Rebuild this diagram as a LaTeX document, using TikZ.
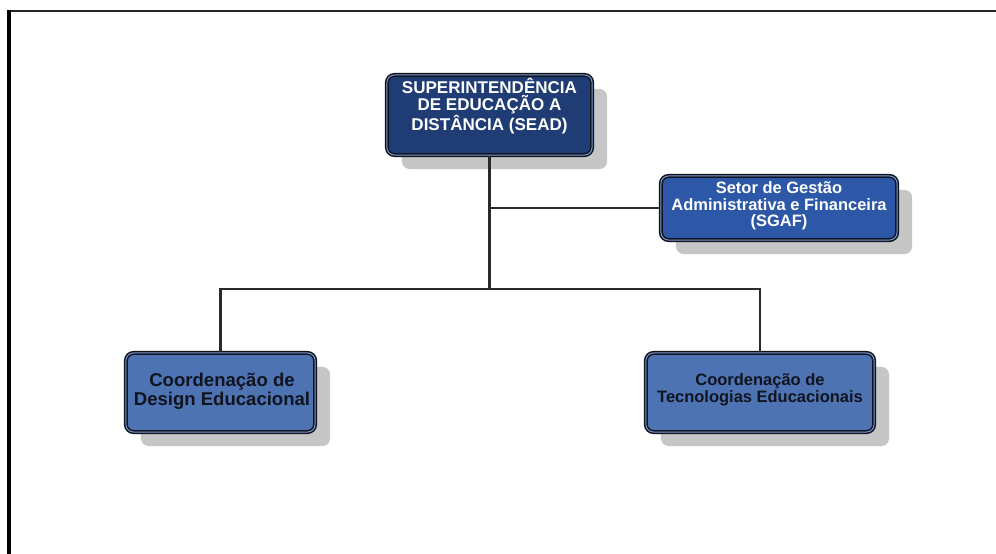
\documentclass[tikz,border=0pt]{standalone}
\usepackage{fontspec}
\setmainfont{Liberation Sans}
\usetikzlibrary{shadows}
\definecolor{navy}{HTML}{1F3D74}
\definecolor{midblue}{HTML}{2D58A8}
\definecolor{lightblue}{HTML}{4D73B3}
\definecolor{rimlight}{HTML}{7E9BD0}
\definecolor{rimdark}{HTML}{10141F}
\definecolor{shade}{HTML}{C6C6C6}
\definecolor{linec}{HTML}{2A2A2A}
\tikzset{
  orgbox/.style={rectangle, rounded corners=0.075in, draw=rimdark, line width=1.1pt,
    double=rimlight, double distance=0.7pt, inner sep=0pt,
    drop shadow={shadow xshift=0.15in, shadow yshift=-0.14in, fill=shade, opacity=1}},
  boxtext/.style={align=center, inner sep=0pt, font=\bfseries\fontsize{#1}{11.9}\selectfont},
  boxtext/.default=12,
  conn/.style={draw=linec, line width=1.6pt},
  frametop/.style={draw=black!85, line width=1.6pt},
  frameleft/.style={draw=black, line width=2.2pt}
}
\begin{document}
\begin{tikzpicture}[x=0.01in, y=-0.01in]
\useasboundingbox (0,0) rectangle (996,554);
\fill[white] (0,0) rectangle (996,554);
% frame
\coordinate (ftl) at (9,11);
\coordinate (ftr) at (996,11);
\coordinate (fbl) at (9,554);
\draw[frametop] (ftl) -- (ftr);
\draw[frameleft] (fbl) -- ([yshift=0.8pt]ftl);
% boxes
\node[orgbox, fill=navy, minimum width=2.05in, minimum height=0.80in] (sead) at (489.5,115) {};
\node[orgbox, fill=midblue, minimum width=2.36in, minimum height=0.64in] (sgaf) at (779,208) {};
\node[orgbox, fill=lightblue, minimum width=1.89in, minimum height=0.79in] (design) at (220.5,392.5) {};
\node[orgbox, fill=lightblue, minimum width=2.28in, minimum height=0.79in] (tec) at (760,392.5) {};
% texts
\node[boxtext=12.3, text=white] (seadt) at (489.5,106) {SUPERINTENDÊNCIA\\DE EDUCAÇÃO A\\DISTÂNCIA (SEAD)};
\node[boxtext=11.9, text=white] (sgaft) at (779,206) {Setor de Gestão\\Administrativa e Financeira\\(SGAF)};
\node[align=center, inner sep=0pt, font=\bfseries\fontsize{13.4}{13.8}\selectfont, text=rimdark] (designt) at (222,391) {Coordenação de\\Design Educacional};
\node[boxtext=11.9, text=rimdark] (tect) at (760,390) {Coordenação de\\Tecnologias Educacionais};
% connectors
\coordinate (j) at (489.5,289);
\coordinate (jb) at (489.5,208);
\draw[conn] (sead.south) -- (j);
\draw[conn] (jb) -- (sgaf.west);
\draw[conn] (design.north) |- (j);
\draw[conn] (tec.north) |- (j);
\end{tikzpicture}
\end{document}
